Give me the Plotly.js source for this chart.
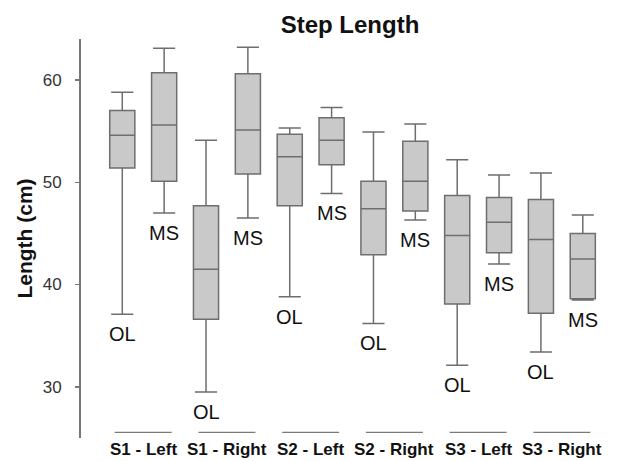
<!DOCTYPE html>
<html>
<head>
<meta charset="utf-8">
<script src="https://cdn.plot.ly/plotly-3.0.1.min.js"></script>
<style>html,body{margin:0;padding:0;background:#fff;}#chart{width:621px;height:461px;}</style>
</head>
<body>
<div id="chart"></div>
<script>
// Data
const groups = ["S1 - Left", "S1 - Right", "S2 - Left", "S2 - Right", "S3 - Left", "S3 - Right"];
const phases = ["OL", "MS"];
const boxIds = ["S1L-OL","S1L-MS","S1R-OL","S1R-MS","S2L-OL","S2L-MS","S2R-OL","S2R-MS","S3L-OL","S3L-MS","S3R-OL","S3R-MS"];
const boxLabels = ["OL","MS","OL","MS","OL","MS","OL","MS","OL","MS","OL","MS"];
const upperWhisker = [58.8, 63.1, 54.1, 63.2, 55.3, 57.3, 54.9, 55.7, 52.2, 50.7, 50.9, 46.8];
const q3Values     = [57.0, 60.7, 47.7, 60.6, 54.7, 56.3, 50.1, 54.0, 48.7, 48.5, 48.3, 45.0];
const medianValues = [54.6, 55.6, 41.5, 55.1, 52.5, 54.1, 47.4, 50.1, 44.8, 46.1, 44.4, 42.5];
const q1Values     = [51.4, 50.1, 36.6, 50.8, 47.7, 51.7, 42.9, 47.2, 38.1, 43.1, 37.2, 38.6];
const lowerWhisker = [37.1, 47.0, 29.5, 46.5, 38.8, 48.9, 36.2, 46.3, 32.1, 42.0, 33.4, 38.5];
const yTicks = [30, 40, 50, 60];

const boxTrace = {
  type: "box",
  x: boxIds,
  q1: q1Values,
  median: medianValues,
  q3: q3Values,
  lowerfence: lowerWhisker,
  upperfence: upperWhisker,
  fillcolor: "#c9c9c9",
  line: {color: "#6e6e6e", width: 1.5},
  width: 0.6,
  whiskerwidth: 0.88,
  hoverinfo: "skip",
  showlegend: false
};

const annotations = [];
boxIds.forEach((id, i) => {
  annotations.push({
    x: id, y: lowerWhisker[i], xref: "x", yref: "y",
    text: boxLabels[i], showarrow: false,
    yanchor: "middle", yshift: -20,
    font: {family: "Arial, Liberation Sans, sans-serif", size: 20, color: "#111"}
  });
});
const shapes = [];
groups.forEach((g, i) => {
  const c = 2 * i + 0.5;
  annotations.push({
    x: c, y: -0.028, xref: "x", yref: "paper",
    text: "<b>" + g + "</b>", showarrow: false, yanchor: "middle",
    font: {family: "Arial, Liberation Sans, sans-serif", size: 17, color: "#111"}
  });
  shapes.push({
    type: "line", xref: "x", yref: "paper",
    x0: c - 0.68, x1: c + 0.68, y0: 0.014, y1: 0.014,
    line: {color: "#7a7a7a", width: 1.3}
  });
});

const layout = {
  width: 621, height: 461,
  margin: {l: 81, r: 11, t: 39, b: 23},
  paper_bgcolor: "#ffffff",
  plot_bgcolor: "#ffffff",
  font: {family: "Arial, Liberation Sans, sans-serif", color: "#222"},
  title: {
    text: "<b>Step Length</b>",
    font: {size: 24, color: "#111"},
    x: 350 / 621, xref: "container", xanchor: "center",
    y: 1 - 25 / 461, yref: "container", yanchor: "middle"
  },
  xaxis: {
    type: "category",
    range: [-0.986, 11.65],
    showticklabels: false,
    showgrid: false, zeroline: false, showline: false, ticks: ""
  },
  yaxis: {
    range: [25, 64],
    tickvals: yTicks,
    ticktext: yTicks.map(String),
    ticks: "outside", ticklen: 4, tickcolor: "#777", tickwidth: 1.3,
    ticklabelstandoff: 10,
    tickfont: {size: 17, color: "#333"},
    showline: true, linecolor: "#777", linewidth: 2,
    showgrid: false, zeroline: false,
    title: {text: "<b>Length (cm)</b>", font: {size: 21, color: "#111"}, standoff: 4}
  },
  annotations: annotations,
  shapes: shapes
};

Plotly.newPlot("chart", [boxTrace], layout, {displayModeBar: false, staticPlot: true});
</script>
</body>
</html>
